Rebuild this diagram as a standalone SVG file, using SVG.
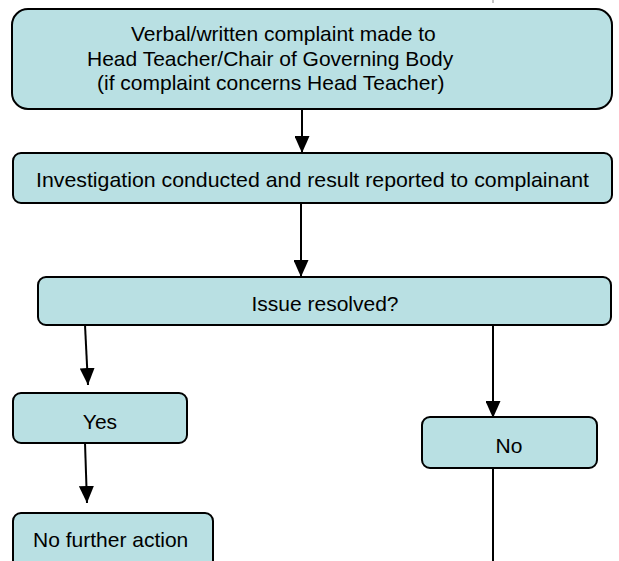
<svg xmlns="http://www.w3.org/2000/svg" width="619" height="561" viewBox="0 0 619 561">
<defs>
<style>
.box{fill:#b9e0e3;stroke:#000;stroke-width:2}
.t{font-family:"Liberation Sans",Arial,sans-serif;font-size:21px;fill:#000}
.c{text-anchor:middle}
.ln{stroke:#000;stroke-width:2;fill:none}
</style>
<marker id="ah" viewBox="0 0 10 10" refX="10" refY="5" markerWidth="17" markerHeight="15" markerUnits="userSpaceOnUse" orient="auto" preserveAspectRatio="none">
<path d="M0,0 L10,5 L0,10 Z" fill="#000"/>
</marker>
</defs>
<rect width="619" height="561" fill="#fff"/>
<g id="connectors">
<line x1="493" y1="0" x2="493" y2="3" stroke="#888" stroke-width="1"/>
<line class="ln" x1="302" y1="110" x2="302" y2="153" marker-end="url(#ah)"/>
<line class="ln" x1="301" y1="203" x2="301" y2="277" marker-end="url(#ah)"/>
<line class="ln" x1="85" y1="325" x2="88" y2="385" marker-end="url(#ah)"/>
<line class="ln" x1="493" y1="325" x2="493" y2="418" marker-end="url(#ah)"/>
<line class="ln" x1="85" y1="443" x2="87" y2="503" marker-end="url(#ah)"/>
<line class="ln" x1="493" y1="468" x2="493" y2="561"/>
</g>
<g id="complaint">
<rect class="box" x="12" y="9" width="600" height="100" rx="16"/>
<text class="t" x="131" y="41">Verbal/written complaint made to</text>
<text class="t" x="87" y="66">Head Teacher/Chair of Governing Body</text>
<text class="t" x="97" y="90">(if complaint concerns Head Teacher)</text>
</g>
<g id="investigation">
<rect class="box" x="13" y="153" width="599" height="50" rx="8"/>
<text class="t" x="36" y="187" textLength="553" lengthAdjust="spacingAndGlyphs">Investigation conducted and result reported to complainant</text>
</g>
<g id="resolved">
<rect class="box" x="38" y="277" width="573" height="48" rx="8"/>
<text class="t c" x="325" y="311">Issue resolved?</text>
</g>
<g id="yes">
<rect class="box" x="13" y="393" width="174" height="50" rx="8"/>
<text class="t c" x="100" y="429">Yes</text>
</g>
<g id="no">
<rect class="box" x="422" y="417" width="175" height="51" rx="8"/>
<text class="t c" x="509" y="453">No</text>
</g>
<g id="nofurther">
<rect class="box" x="13" y="513" width="200" height="60" rx="8"/>
<text class="t" x="33" y="547">No further action</text>
</g>
</svg>
